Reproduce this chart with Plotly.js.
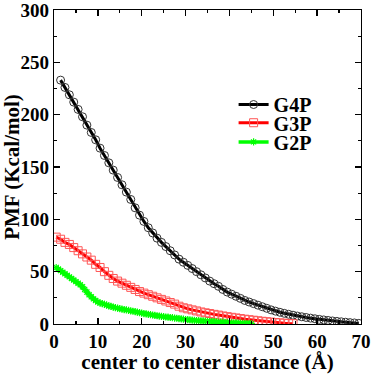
<!DOCTYPE html>
<html>
<head>
<meta charset="utf-8">
<script src="https://cdn.plot.ly/plotly-3.0.1.min.js"></script>
<style>
  html, body { margin: 0; padding: 0; background: #fff; }
  #plot { width: 374px; height: 374px; }
</style>
</head>
<body>
<div id="plot"></div>
<script>
// PMF curves, sampled on a regular grid (start / step given below)
const g4pStart = 1.5, g4pStep = 1;
const g4p = [
  233, 226, 219, 212, 205, 198, 190, 183, 176, 168,
  161, 154, 147, 140, 133, 126, 119, 111, 104, 98,
  92, 87, 82, 78, 74, 70, 66, 62, 59, 56,
  53, 50, 47, 44, 41, 38.5, 36, 33, 30.5, 28.5,
  26.5, 24.5, 22.5, 21, 19.5, 18, 16.5, 15, 13.5, 12.3,
  11.2, 10.2, 9.3, 8.4, 7.6, 6.9, 6.2, 5.6, 5, 4.4,
  3.9, 3.4, 2.9, 2.5, 2.1, 1.7, 1.3, 1, 0.6
];

const g3pStart = 0.5, g3pStep = 1;
const g3p = [
  83, 81, 78, 76, 73, 70, 67, 64, 61, 57,
  54, 50, 46.5, 43.5, 41, 39, 37, 35, 33, 31,
  29.5, 28, 26.5, 25, 23.5, 22, 20.5, 19, 17, 15.5,
  14.5, 13.5, 12.5, 11.5, 10.7, 10, 9.2, 8.5, 7.7, 7,
  6.4, 5.8, 5.2, 4.6, 4.1, 3.6, 3.1, 2.6, 2.2, 1.8,
  1.4, 1.1, 0.8, 0.5, 0.3
];

const g2pStart = 0.5, g2pStep = 0.5;
const g2p = [
  54, 52.5, 51, 49.5, 48, 46.5, 45, 43.5, 42, 40.5,
  39, 37.5, 35.5, 33, 30.5, 28, 26, 24, 22.5, 21,
  20, 19.5, 18.8, 18, 17.4, 16.8, 16.2, 15.6, 15.1, 14.6,
  14.2, 13.8, 13.4, 13, 12.6, 12.2, 11.8, 11.3, 10.8, 10.4,
  10, 9.6, 9.2, 8.9, 8.6, 8.2, 7.9, 7.6, 7.3, 7,
  6.7, 6.5, 6.2, 6, 5.7, 5.5, 5.2, 4.9, 4.6, 4.3,
  4.1, 3.9, 3.7, 3.5, 3.3, 3.2, 3.0, 2.9, 2.7, 2.6,
  2.4, 2.3, 2.2, 2.0, 1.9, 1.8, 1.7, 1.5, 1.4, 1.3,
  1.2, 1.1, 1.0, 0.9, 0.8, 0.7, 0.6, 0.5, 0.4, 0.3
];

const xTicks = [0, 10, 20, 30, 40, 50, 60, 70];
const yTicks = [0, 50, 100, 150, 200, 250, 300];
const bold = v => `<b>${v}</b>`;

const xTitle = "<b>center to center distance (Å)</b>";
const yTitle = "<b>PMF (Kcal/mol)</b>";

const font = { family: "Liberation Serif", color: "#000" };

const traces = [
  {
    y: g4p, x0: g4pStart, dx: g4pStep, name: "<b>G4P</b>", legend: "legend",
    mode: "lines+markers",
    line: { color: "#000", width: 3 },
    marker: { symbol: "circle-open", size: 8, color: "#333", line: { width: 1 } }
  },
  {
    y: g3p, x0: g3pStart, dx: g3pStep, name: "<b>G3P</b>", legend: "legend2",
    mode: "lines+markers",
    line: { color: "#ff0000", width: 3 },
    marker: { symbol: "square-open", size: 8, color: "#ff5555", line: { width: 1 } }
  },
  {
    y: g2p, x0: g2pStart, dx: g2pStep, name: "<b>G2P</b>", legend: "legend3",
    mode: "lines+markers",
    line: { color: "#00ff00", width: 3.5 },
    marker: { symbol: "asterisk-open", size: 6, color: "#00ff00", line: { width: 1.2, color: "#33ff33" } }
  }
];

const axis = {
  showline: true, linecolor: "#000", linewidth: 1.3, mirror: "ticks",
  ticks: "inside", ticklen: 6, tickwidth: 1.3, tickcolor: "#000",
  showgrid: false, zeroline: false, ticklabeloverflow: "allow",
  tickfont: { ...font, size: 19 }
};

const legendBase = {
  xanchor: "left", yanchor: "middle", x: 0.585,
  bgcolor: "rgba(0,0,0,0)", itemwidth: 30,
  font: { ...font, size: 20 }
};

const layout = {
  width: 374, height: 374,
  margin: { l: 54, r: 13, t: 10, b: 50 },
  paper_bgcolor: "#fff", plot_bgcolor: "#fff",
  font: font,
  showlegend: true,
  legend: { ...legendBase, y: 0.699 },
  legend2: { ...legendBase, y: 0.641 },
  legend3: { ...legendBase, y: 0.580 },
  xaxis: {
    ...axis, range: [0, 70],
    tickvals: xTicks, ticktext: xTicks.map(bold),
    minor: { dtick: 5, tick0: 0, ticks: "inside", ticklen: 3, tickcolor: "#000" },
    title: { text: xTitle, font: { ...font, size: 21 }, standoff: 2 }
  },
  yaxis: {
    ...axis, range: [0, 300],
    tickvals: yTicks, ticktext: yTicks.map(bold),
    minor: { dtick: 25, tick0: 0, ticks: "inside", ticklen: 3, tickcolor: "#000" },
    title: { text: yTitle, font: { ...font, size: 21 }, standoff: 1 }
  }
};

Plotly.newPlot("plot", traces, layout, { displayModeBar: false, staticPlot: true });
</script>
</body>
</html>
